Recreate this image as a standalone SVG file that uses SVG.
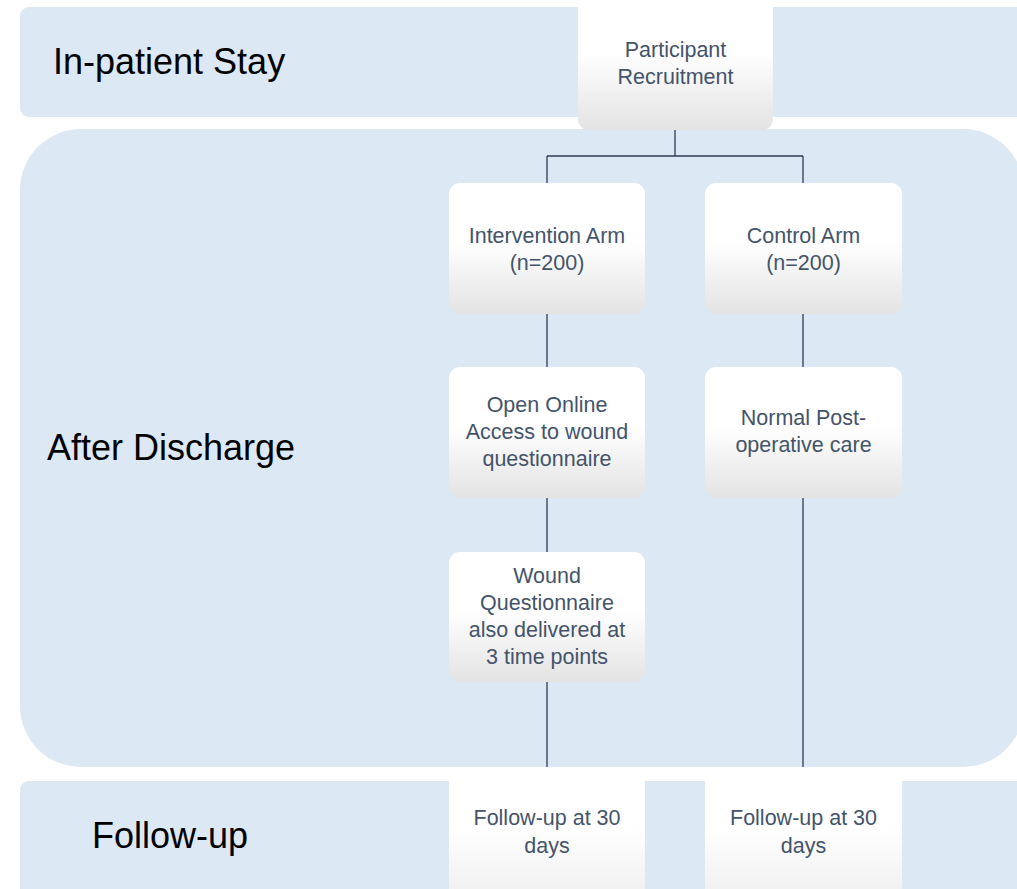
<svg xmlns="http://www.w3.org/2000/svg" width="1017" height="889" viewBox="0 0 1017 889">
<defs>
<linearGradient id="g" x1="0" y1="0" x2="0" y2="1">
<stop offset="0" stop-color="#ffffff"/>
<stop offset="0.45" stop-color="#ffffff"/>
<stop offset="1" stop-color="#e3e3e3"/>
</linearGradient>
<linearGradient id="g2" x1="0" y1="0" x2="0" y2="1">
<stop offset="0" stop-color="#ffffff"/>
<stop offset="0.4" stop-color="#ffffff"/>
<stop offset="1" stop-color="#ebebeb"/>
</linearGradient>
<style>
.band{fill:#dde8f5}
.box{fill:url(#g)}
.box2{fill:url(#g2)}
.t{font-family:"Liberation Sans",Arial,sans-serif;font-size:21.5px;fill:#44546a;text-anchor:middle}
.lab{font-family:"Liberation Sans",Arial,sans-serif;font-size:36px;fill:#000}
.c{stroke:#2f3b50;stroke-width:1.3;fill:none}
</style>
</defs>
<rect width="1017" height="889" fill="#ffffff"/>
<g id="band-inpatient">
<rect class="band" x="20" y="7" width="1020" height="110" rx="9"/>
<text class="lab" x="53" y="74">In-patient Stay</text>
</g>
<g id="band-after">
<rect class="band" x="20" y="129" width="1004" height="638" rx="61"/>
<text class="lab" x="47" y="460">After Discharge</text>
</g>
<g id="band-followup">
<rect class="band" x="20" y="781" width="1020" height="130" rx="9"/>
<text class="lab" x="92" y="848">Follow-up</text>
</g>
<g id="connectors">
<path class="c" d="M675,130 V156 M547,156 H803 M547,156 V183 M803,156 V183"/>
<path class="c" d="M547,313 V367 M547,497 V552 M547,681 V767"/>
<path class="c" d="M803,313 V367 M803,497 V767"/>
</g>
<g id="node-recruitment">
<rect class="box" x="578" y="-10" width="195" height="140" rx="11"/>
<text class="t" x="675.5" y="57">Participant</text>
<text class="t" x="675.5" y="84">Recruitment</text>
</g>
<g id="node-intervention">
<rect class="box" x="449" y="183" width="196" height="131" rx="11"/>
<text class="t" x="547" y="243">Intervention Arm</text>
<text class="t" x="547" y="270">(n=200)</text>
</g>
<g id="node-control">
<rect class="box" x="705" y="183" width="197" height="131" rx="11"/>
<text class="t" x="803.5" y="243">Control Arm</text>
<text class="t" x="803.5" y="270">(n=200)</text>
</g>
<g id="node-online">
<rect class="box" x="449" y="367" width="196" height="131" rx="11"/>
<text class="t" x="547" y="412">Open Online</text>
<text class="t" x="547" y="439">Access to wound</text>
<text class="t" x="547" y="466">questionnaire</text>
</g>
<g id="node-normal">
<rect class="box" x="705" y="367" width="197" height="131" rx="11"/>
<text class="t" x="803.5" y="425">Normal Post-</text>
<text class="t" x="803.5" y="452">operative care</text>
</g>
<g id="node-wound">
<rect class="box" x="449" y="552" width="196" height="130" rx="11"/>
<text class="t" x="547" y="583">Wound</text>
<text class="t" x="547" y="610">Questionnaire</text>
<text class="t" x="547" y="637">also delivered at</text>
<text class="t" x="547" y="664">3 time points</text>
</g>
<g id="node-followup-intervention">
<rect class="box2" x="449" y="767" width="196" height="150" rx="11"/>
<text class="t" x="547" y="825">Follow-up at 30</text>
<text class="t" x="547" y="853">days</text>
</g>
<g id="node-followup-control">
<rect class="box2" x="705" y="767" width="197" height="150" rx="11"/>
<text class="t" x="803.5" y="825">Follow-up at 30</text>
<text class="t" x="803.5" y="853">days</text>
</g>
</svg>
